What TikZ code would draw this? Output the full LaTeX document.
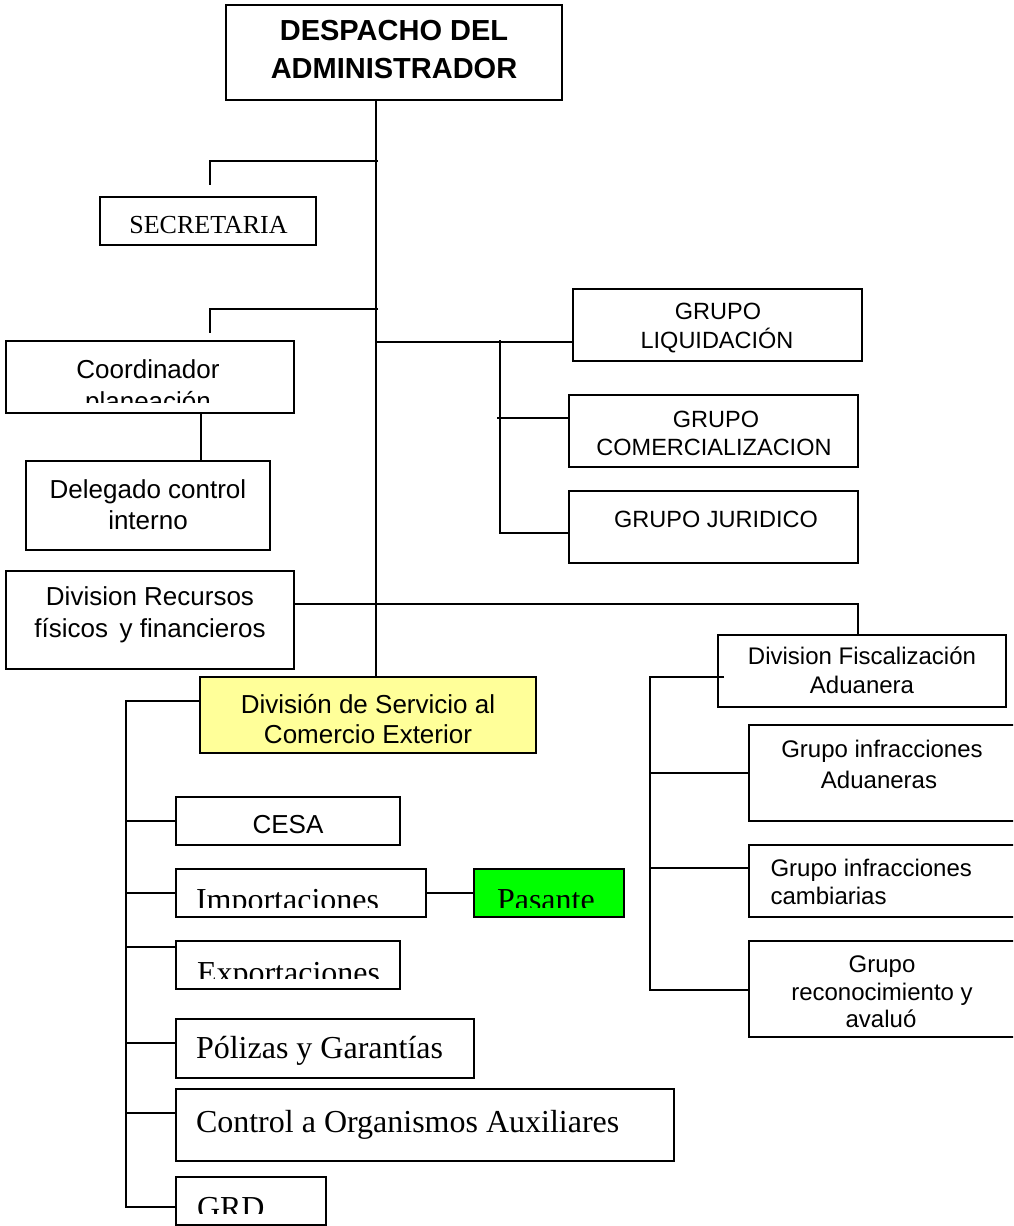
\documentclass[tikz,border=0pt]{standalone}
\usepackage{fontspec}
\setmainfont{Liberation Serif}
\setsansfont{Liberation Sans}
\newcommand\fBold{\sffamily\bfseries\fontsize{29}{34}\selectfont}
\newcommand\fLeft{\sffamily\fontsize{26}{30}\selectfont}
\newcommand\fGrp{\sffamily\fontsize{23.5}{28}\selectfont}
\newcommand\fRight{\sffamily\fontsize{24}{28}\selectfont}
\newcommand\fTimes{\rmfamily\fontsize{32}{36}\selectfont}
\newcommand\fTimesS{\rmfamily\fontsize{26}{30}\selectfont}
\begin{document}
\begin{tikzpicture}[x=1pt,y=-1pt,
  line width=1.8pt,
  box/.style={draw, rectangle, line width=1.8pt, inner sep=0pt, outer sep=0pt},
  txt/.style={anchor=base, inner sep=0pt, outer sep=0pt},
  txtl/.style={anchor=base west, inner sep=0pt, outer sep=0pt}]
\useasboundingbox (0,0) rectangle (1013,1226);
\clip (0,0) rectangle (1013,1226);
\fill[white] (0,0) rectangle (1013,1226);

% ---------- boxes ----------
\node[box, minimum width=336, minimum height=95] (desp) at (394,52.5) {};
\node[box, minimum width=216, minimum height=48] (sec) at (208,221) {};
\node[box, minimum width=288, minimum height=72] (coord) at (150,377) {};
\node[box, minimum width=244, minimum height=89] (deleg) at (148,505.5) {};
\node[box, minimum width=289, minimum height=72] (liq) at (717.5,325) {};
\node[box, minimum width=289, minimum height=72] (com) at (713.5,431) {};
\node[box, minimum width=289, minimum height=72] (jur) at (713.5,527) {};
\node[box, minimum width=288, minimum height=98] (recur) at (150,620) {};
\node[box, fill={rgb,255:red,255;green,255;blue,153}, minimum width=336, minimum height=76] (dsce) at (368,715) {};
\node[box, minimum width=288, minimum height=72] (fisc) at (862,671) {};
\node[box, minimum width=281, minimum height=96] (ga) at (889.5,773) {};
\node[box, minimum width=281, minimum height=72] (gc) at (889.5,881) {};
\node[box, minimum width=281, minimum height=96] (gr) at (889.5,989) {};
\node[box, minimum width=224, minimum height=48] (cesa) at (288,821) {};
\node[box, minimum width=250, minimum height=48] (imp) at (301,893) {};
\node[box, fill={rgb,255:red,0;green,255;blue,0}, minimum width=150, minimum height=48] (pas) at (549,893) {};
\node[box, minimum width=224, minimum height=48] (exp) at (288,965) {};
\node[box, minimum width=298, minimum height=59] (pol) at (325,1048.5) {};
\node[box, minimum width=498, minimum height=72] (ctrl) at (425,1125) {};
\node[box, minimum width=150, minimum height=48] (grd) at (251,1201) {};

% ---------- connector coordinates ----------
\coordinate (tx) at (376,0);
\coordinate (jSec) at (378,161);
\coordinate (sEnd) at (210,185);
\coordinate (jCo) at (378,309);
\coordinate (cEnd) at (210,333);
\coordinate (dx) at (201,0);
\coordinate (jLq) at (376,342);
\coordinate (sTop) at (500,340);
\coordinate (jC) at (497,418);
\coordinate (jJ) at (500,533);
\coordinate (jR) at (858,604);
\coordinate (fA) at (724,677);
\coordinate (fx) at (650,677);
\coordinate (fC) at (650,868);
\coordinate (fB) at (650,990);
\coordinate (lx) at (126,701);
\coordinate (lE) at (126,947);
\coordinate (lP) at (126,1043);
\coordinate (lC) at (126,1113);
\coordinate (lEnd) at (126,1207);

% ---------- connectors ----------
\draw (desp.south -| tx) -- (dsce.north -| tx);
\draw (jSec) -- (jSec -| sEnd) -- (sEnd);
\draw (jCo) -- (jCo -| cEnd) -- (cEnd);
\draw (coord.south -| dx) -- (deleg.north -| dx);
\draw (jLq) -- (jLq -| liq.west);
\draw (sTop) -- (jJ) -- (jJ -| jur.west);
\draw (jC) -- (jC -| com.west);
\draw (recur.east |- jR) -- (jR) -- (fisc.north -| jR);
\draw (fA) -- (fx) -- (fB) -- (fB -| gr.west);
\draw (ga.west -| fx) -- (ga.west);
\draw (fC) -- (fC -| gc.west);
\draw (dsce.west |- lx) -- (lx) -- (lEnd) -- (lEnd -| grd.west);
\draw (cesa.west -| lx) -- (cesa.west);
\draw (imp.west -| lx) -- (imp.west);
\draw (lE) -- (lE -| exp.west);
\draw (lP) -- (lP -| pol.west);
\draw (lC) -- (lC -| ctrl.west);
\draw (imp.east) -- (pas.west);

% ---------- texts ----------
\node[txt, font=\fBold] (tdesp1) at (394,40) {DESPACHO DEL};
\node[txt, font=\fBold] (tdesp2) at (394,78) {ADMINISTRADOR};
\node[txt, font=\fTimesS] (tsec) at (208.5,233) {SECRETARIA};
\node[txt, font=\fLeft] (tco1) at (148,378) {Coordinador};
\begin{scope}
\clip (6,341) rectangle (294,402);
\node[txt, font=\fLeft] (tco2) at (148,410) {planeación};
\end{scope}
\node[txt, font=\fLeft] (tde1) at (148,498) {Delegado control};
\node[txt, font=\fLeft] (tde2) at (148,529) {interno};
\node[txt, font=\fGrp] (tlq1) at (718,319) {GRUPO};
\node[txt, font=\fGrp] (tlq2) at (717,348) {LIQUIDACIÓN};
\node[txt, font=\fGrp] (tcm1) at (716,427) {GRUPO};
\node[txt, font=\fGrp] (tcm2) at (714,455) {COMERCIALIZACION};
\node[txt, font=\fGrp] (tjr) at (716,527) {GRUPO JURIDICO};
\node[txt, font=\fLeft] (trc1) at (150,605) {Division Recursos};
\node[txt, font=\fLeft] (trc2) at (150,637) {físicos\, y financieros};
\node[txt, font=\fLeft] (tds1) at (368,713) {División de Servicio al};
\node[txt, font=\fLeft] (tds2) at (368,743) {Comercio Exterior};
\node[txt, font=\fRight] (tfs1) at (862,664) {Division Fiscalización};
\node[txt, font=\fRight] (tfs2) at (862,693) {Aduanera};
\node[txt, font=\fRight] (tga1) at (882,757) {Grupo infracciones};
\node[txt, font=\fRight] (tga2) at (879,788) {Aduaneras};
\node[txtl, font=\fRight] (tgc1) at (770.5,876) {Grupo infracciones};
\node[txtl, font=\fRight] (tgc2) at (770.5,904) {cambiarias};
\node[txt, font=\fRight] (tgr1) at (882,972) {Grupo};
\node[txt, font=\fRight] (tgr2) at (882,1000) {reconocimiento y};
\node[txt, font=\fRight] (tgr3) at (881,1027) {avaluó};
\node[txt, font=\fLeft] (tcesa) at (288,833) {CESA};
\begin{scope}
\clip (176,869) rectangle (426,907);
\node[txtl, font=\fTimes] (timp) at (196,910) {Importaciones};
\end{scope}
\begin{scope}
\clip (474,869) rectangle (624,907);
\node[txtl, font=\fTimes] (tpas) at (497,910) {Pasante};
\end{scope}
\begin{scope}
\clip (176,941) rectangle (400,978);
\node[txtl, font=\fTimes] (texp) at (197,983) {Exportaciones};
\end{scope}
\node[txtl, font=\fTimes] (tpol) at (196,1058) {Pólizas y Garantías};
\node[txtl, font=\fTimes] (tctrl) at (196,1132) {Control a Organismos Auxiliares};
\begin{scope}
\clip (176,1177) rectangle (326,1213);
\node[txtl, font=\fTimes] (tgrd) at (197,1218) {GRD};
\end{scope}
\end{tikzpicture}
\end{document}
